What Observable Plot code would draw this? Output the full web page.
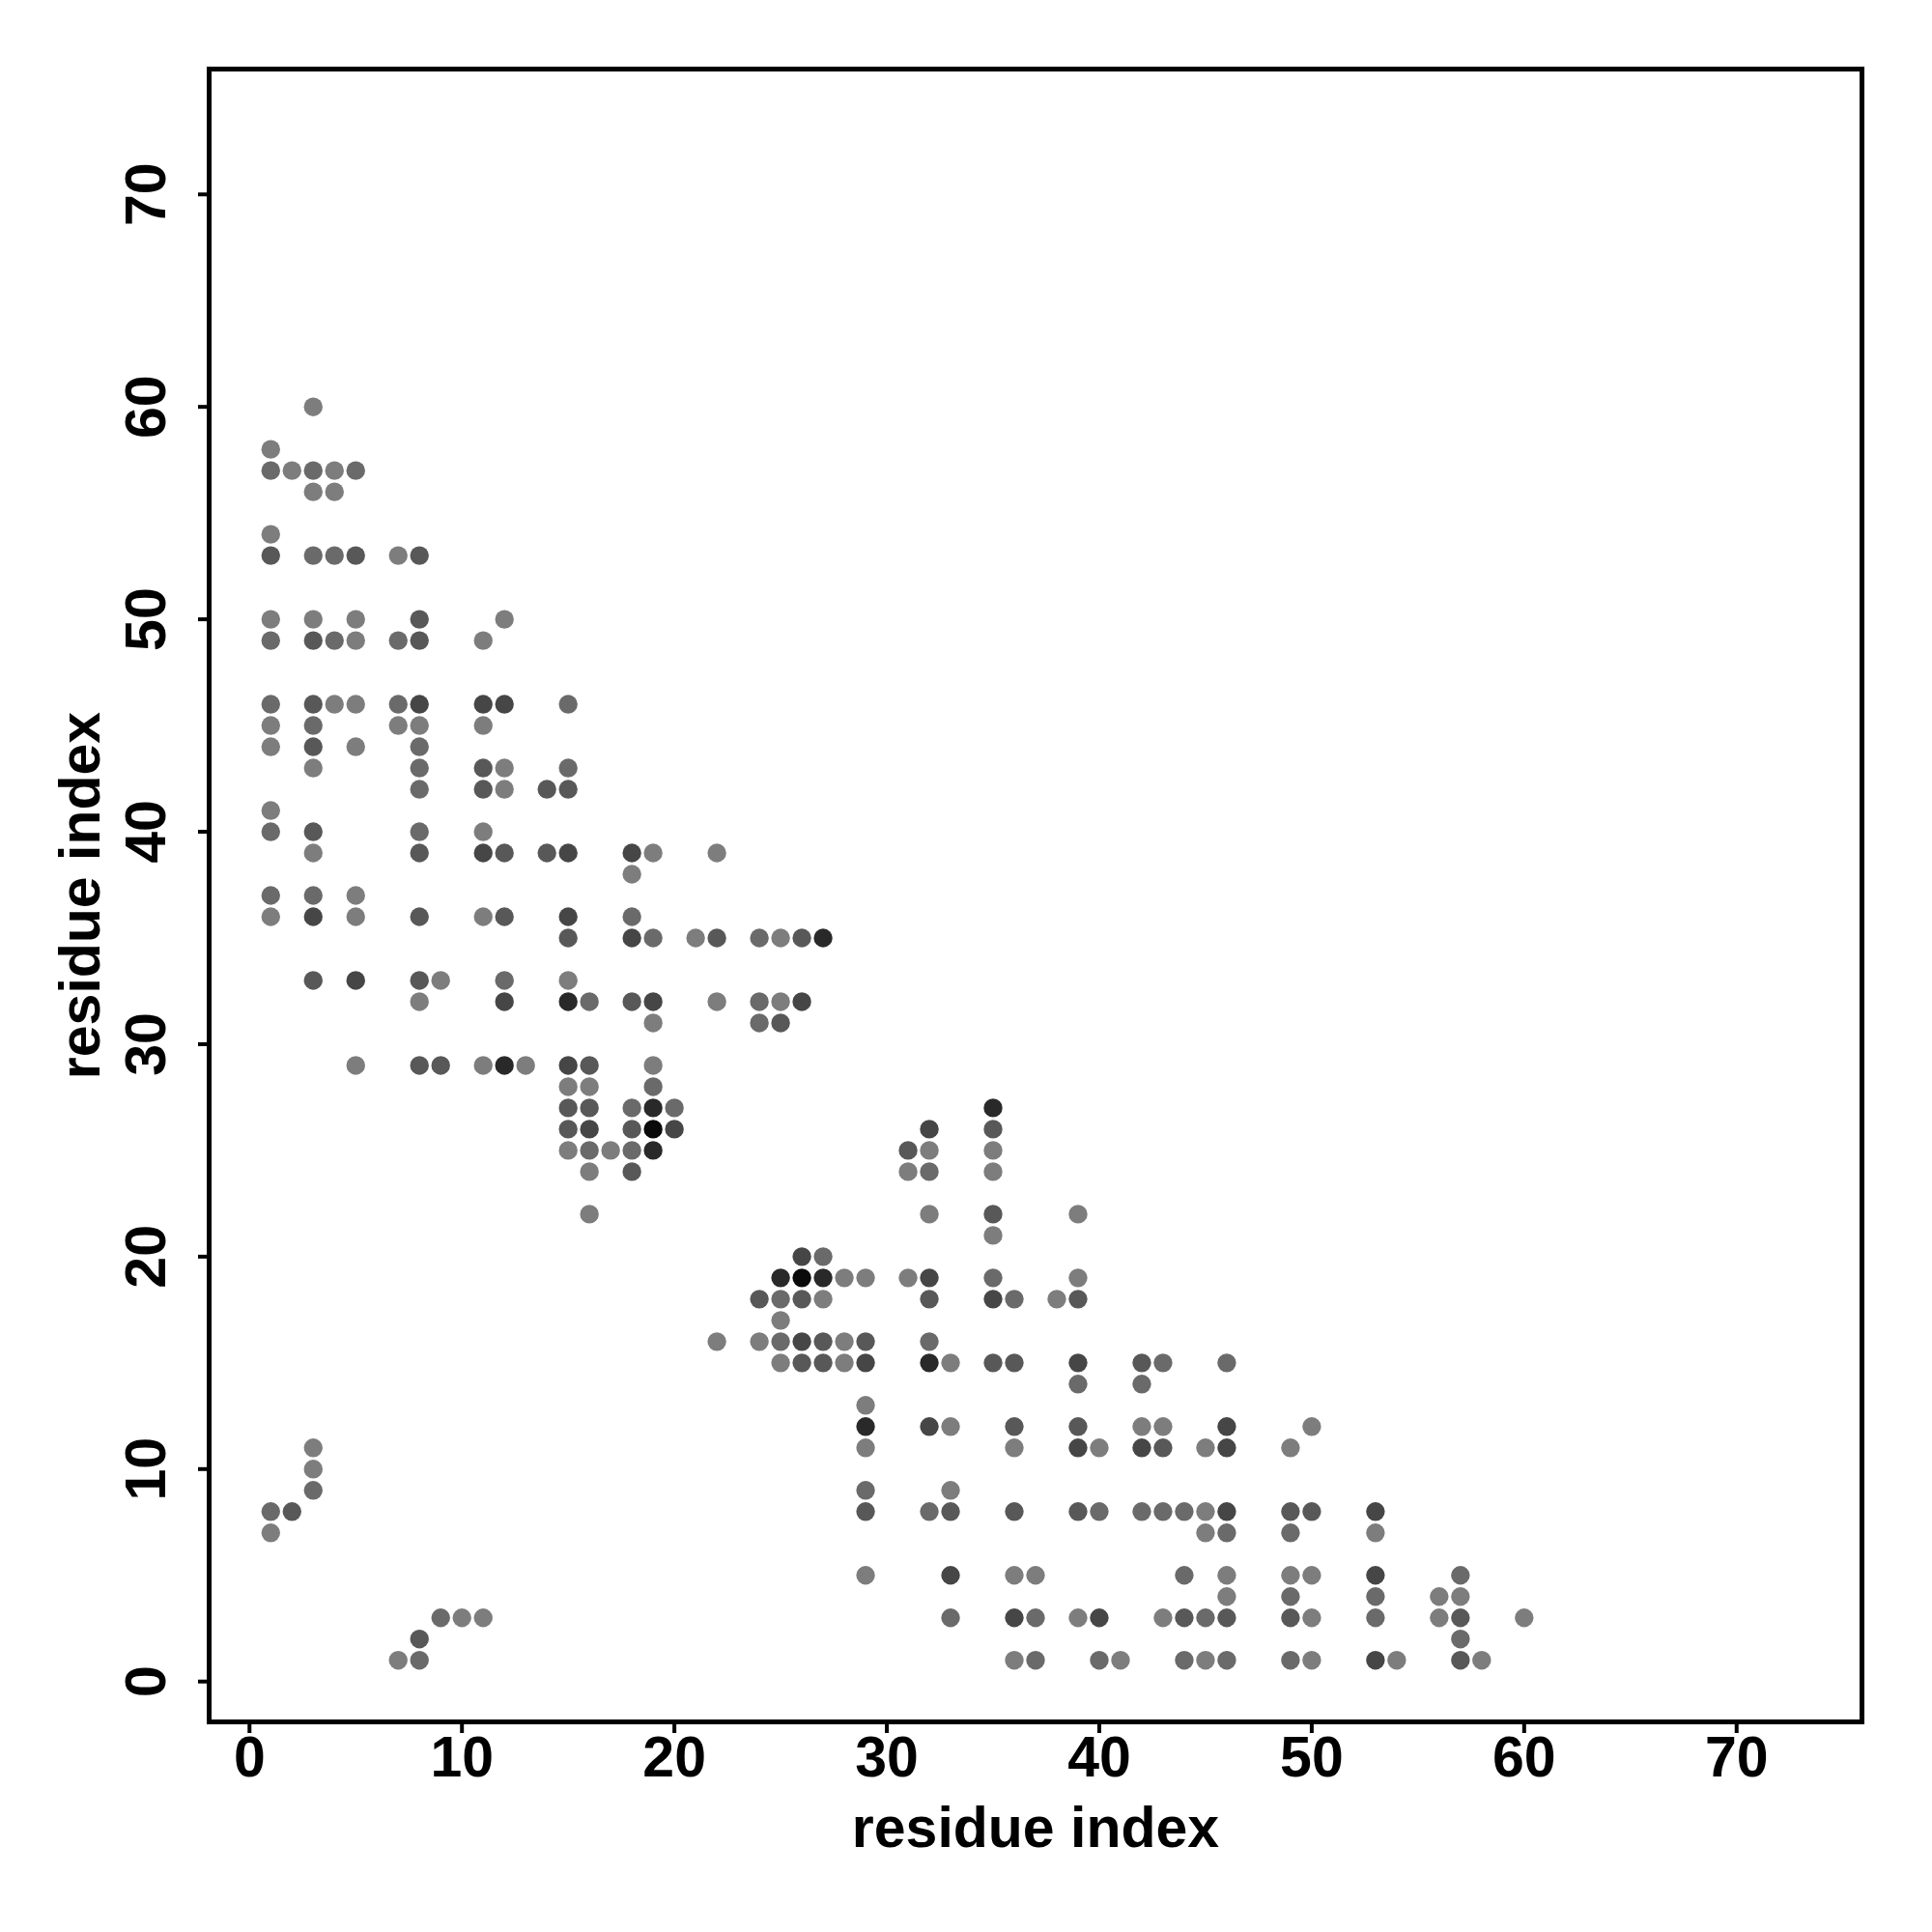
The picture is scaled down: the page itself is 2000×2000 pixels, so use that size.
<!DOCTYPE html>
<html><head><meta charset="utf-8">
<script src="https://cdn.jsdelivr.net/npm/d3@7"></script>
<script src="https://cdn.jsdelivr.net/npm/@observablehq/plot@0.6"></script>
<style>body{margin:0;background:#fff}#chart{width:2000px;height:2000px}</style>
</head><body><div id="chart"></div>
<script>
// residue index j (vertical) of each row of contacts
const rowJ = [60,58,57,56,54,53,50,49,46,45,44,43,42,41,40,39,38,37,36,35,33,32,31,29,28,27,26,25,24,22,21,20,19,18,17,16,15,14,13,12,11,10,9,8,7,5,4,3,2,1];
// residue index i (horizontal) of the contacts in each row
const rowI = [
  [3],[1],[1,2,3,4,5],[3,4],[1],[1,3,4,5,7,8],[1,3,5,8,12],[1,3,4,5,7,8,11],
  [1,3,4,5,7,8,11,12,15],[1,3,7,8,11],[1,3,5,8],[3,8,11,12,15],[8,11,12,14,15],[1],
  [1,3,8,11],[3,8,11,12,14,15,18,19,22],[18],[1,3,5],[1,3,5,8,11,12,15,18],
  [15,18,19,21,22,24,25,26,27],[3,5,8,9,12,15],[8,12,15,16,18,19,22,24,25,26],[19,24,25],
  [5,8,9,11,12,13,15,16,19],[15,16,19],[15,16,18,19,20,35],[15,16,18,19,20,32,35],
  [15,16,17,18,19,31,32,35],[16,18,31,32,35],[16,32,35,39],[35],[26,27],
  [25,26,27,28,29,31,32,35,39],[24,25,26,27,32,35,36,38,39],[25],[22,24,25,26,27,28,29,32],
  [25,26,27,28,29,32,33,35,36,39,42,43,46],[39,42],[29],[29,32,33,36,39,42,43,46,50],
  [3,29,36,39,40,42,43,45,46,49],[3],[3,29,33],
  [1,2,29,32,33,36,39,40,42,43,44,45,46,49,50,53],[1,45,46,49,53],
  [29,33,36,37,44,46,49,50,53,57],[46,49,53,56,57],
  [9,10,11,33,36,37,39,40,43,44,45,46,49,50,53,56,57,60],[8,57],
  [7,8,36,37,40,41,44,45,46,49,50,53,54,57,58]
];
// contact strength level (1 = weakest/lightest ... 6 = strongest/black)
const rowLevel = [
  [1],[1],[2,1,2,1,2],[1,1],[1],[3,2,2,3,1,3],[1,1,1,3,1],[2,3,2,1,2,3,1],
  [2,3,1,1,2,4,4,4,2],[1,2,1,1,1],[1,3,1,2],[1,2,3,1,2],[2,3,1,3,3],[1],
  [2,3,2,1],[1,3,4,3,3,4,4,1,1],[1],[2,2,1],[1,4,1,3,1,3,4,2],
  [3,4,2,1,3,2,1,3,5],[3,4,3,1,2,1],[1,4,5,2,3,4,1,2,1,4],[1,2,3],
  [1,3,3,1,5,1,4,3,1],[1,1,2],[3,3,2,5,2,5],[3,4,3,6,4,4,3],
  [1,2,1,2,5,3,1,1],[1,3,1,2,1],[1,1,3,1],[1],[4,2],
  [5,6,5,1,1,1,4,2,1],[3,2,3,1,3,4,2,1,3],[1],[1,1,2,4,3,1,3,2],
  [1,3,3,1,4,5,1,3,3,4,3,2,2],[2,2],[1],[5,4,1,3,3,1,1,4,1],
  [1,1,1,4,1,4,3,1,4,1],[1],[2,2,1],
  [2,3,3,2,3,3,3,2,2,2,2,1,4,3,3,4],[1,1,2,2,1],
  [1,4,1,1,2,1,1,1,4,2],[1,2,2,1,1],
  [2,1,1,2,4,2,1,4,1,3,2,3,3,1,2,1,3,1],[3,2],
  [1,2,1,2,2,1,2,1,2,2,1,4,1,3,1]
];
const axisTicks = [0,10,20,30,40,50,60,70];
const xTitle = "residue index";
const yTitle = "residue index";
const levelDomain = [1,2,3,4,5,6];
const levelGrays = ["#7d7d7d","#6a6a6a","#585858","#464646","#292929","#0a0a0a"];

const contacts = rowJ.flatMap((j, r) => rowI[r].map((i, k) => ({i, j, level: rowLevel[r][k]})));

const font = "'Liberation Sans', Arial, Helvetica, sans-serif";
const chart = Plot.plot({
  width: 2000, height: 2000,
  marginLeft: 216, marginRight: 73, marginTop: 71, marginBottom: 218,
  style: {fontFamily: font, background: "white", color: "black"},
  x: {domain: [-1.9, 75.9]},
  y: {domain: [-1.9, 75.9]},
  color: {type: "ordinal", domain: levelDomain, range: levelGrays},
  marks: [
    Plot.dot(contacts, {x: "i", y: "j", r: 9.7, fill: "level", stroke: null}),
    Plot.frame({stroke: "black", strokeWidth: 5}),
    Plot.axisX({ticks: axisTicks, tickSize: 12, tickPadding: 3, strokeWidth: 4, fontSize: 59, fontWeight: "bold", label: null}),
    Plot.axisY({ticks: axisTicks, tickSize: 11, strokeWidth: 4, tickFormat: () => "", label: null}),
    Plot.text(axisTicks, {y: d => d, text: d => String(d), frameAnchor: "left", rotate: -90, textAnchor: "middle", lineAnchor: "bottom", dx: -46, fontSize: 59, fontWeight: "bold"}),
    Plot.text([xTitle], {frameAnchor: "bottom", dy: 129, lineAnchor: "bottom", textAnchor: "middle", fontSize: 59, fontWeight: "bold", text: d => d}),
    Plot.text([yTitle], {frameAnchor: "left", rotate: -90, dx: -114, lineAnchor: "bottom", textAnchor: "middle", fontSize: 59, fontWeight: "bold", text: d => d})
  ]
});
document.getElementById("chart").appendChild(chart);
</script>
</body></html>
